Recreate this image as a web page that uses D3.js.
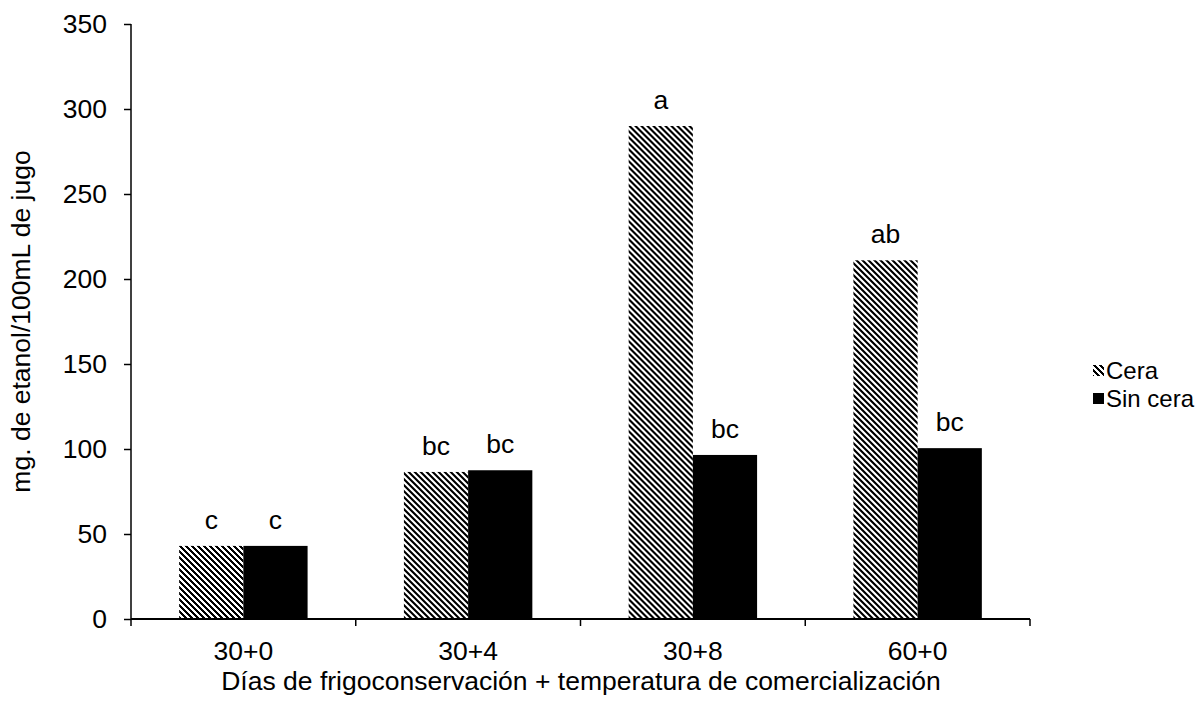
<!DOCTYPE html>
<html><head><meta charset="utf-8">
<script src="https://cdn.jsdelivr.net/npm/d3@7"></script>
<style>body{margin:0;background:#fff}svg{display:block}text{font-family:"Liberation Sans",Arial,sans-serif}</style>
</head><body>
<script>
const categories = ["30+0","30+4","30+8","60+0"];
const seriesNames = ["Cera","Sin cera"];
const cera = [43, 86.5, 290, 211];
const sinCera = [43, 87.5, 96.5, 100.5];
const ceraLabels = ["c","bc","a","ab"];
const sinCeraLabels = ["c","bc","bc","bc"];
const yTicks = [0,50,100,150,200,250,300,350];

(function(){
const W=1199,H=717, FS=26.5, FF="Liberation Sans, Arial, sans-serif";
const svg=d3.select("body").append("svg").attr("width",W).attr("height",H);
const defs=svg.append("defs");
const P=6;
const pat=defs.append("pattern").attr("id","hatch").attr("patternUnits","userSpaceOnUse")
  .attr("width",P).attr("height",P);
pat.append("rect").attr("width",P).attr("height",P).attr("fill","#fff");
const cells=[];
for(let r=0;r<P;r++)for(let k=0;k<3;k++)cells.push([(r+k)%P,r]);
pat.selectAll("rect.c").data(cells).join("rect").attr("class","c")
  .attr("x",d=>d[0]).attr("y",d=>d[1]).attr("width",1).attr("height",1).attr("fill","#000").attr("shape-rendering","crispEdges");

const mL=131,mR=1030,mT=24,mB=619;
const x=d3.scaleBand().domain(categories).range([mL,mR]);
const xs=d3.scaleBand().domain(seriesNames).range([0,x.bandwidth()]).paddingInner(0).paddingOuter(0.75);
const y=d3.scaleLinear().domain([0,350]).range([mB,mT]);

const data=categories.map((c,i)=>({c,vals:[{s:"Cera",v:cera[i],l:ceraLabels[i]},{s:"Sin cera",v:sinCera[i],l:sinCeraLabels[i]}]}));
const g=svg.append("g");
const grp=g.selectAll("g.grp").data(data).join("g").attr("transform",d=>`translate(${x(d.c)},0)`);
grp.selectAll("rect").data(d=>d.vals).join("rect")
  .attr("x",d=>xs(d.s)).attr("width",xs.bandwidth())
  .attr("y",d=>y(d.v)).attr("height",d=>y(0)-y(d.v))
  .attr("fill",d=>d.s==="Cera"?"url(#hatch)":"#000");
grp.selectAll("text.lbl").data(d=>d.vals).join("text").attr("class","lbl")
  .attr("x",d=>xs(d.s)+xs.bandwidth()/2).attr("y",d=>y(d.v)-17)
  .attr("text-anchor","middle").attr("font-size",FS).text(d=>d.l);

const ya=svg.append("g").attr("transform",`translate(${mL},0)`)
  .call(d3.axisLeft(y).tickValues(yTicks).tickSize(7).tickPadding(17));
ya.select(".domain").attr("stroke-width",1.5).attr("d",`M0,${mT}V${mB}`);
ya.selectAll(".tick line").attr("stroke-width",1.5);
ya.selectAll("text").attr("font-size",FS).attr("fill","#000").attr("font-family",FF);

const xa=svg.append("g").attr("transform",`translate(0,${mB})`)
  .call(d3.axisBottom(x).tickSize(0).tickPadding(22));
xa.select(".domain").attr("stroke-width",2).attr("d",`M${mL},0H${mR}`);
xa.selectAll("text").attr("font-size",FS).attr("fill","#000").attr("font-family",FF);
const bounds=categories.map(c=>x(c)).concat([mR]);
svg.append("g").selectAll("line").data(bounds).join("line")
  .attr("x1",d=>d).attr("x2",d=>d).attr("y1",mB).attr("y2",mB+7)
  .attr("stroke","#000").attr("stroke-width",1.5);

svg.append("text").attr("transform",`translate(30,${(mT+mB)/2}) rotate(-90)`)
  .attr("text-anchor","middle").attr("font-size",FS).text("mg. de etanol/100mL de jugo");
svg.append("text").attr("x",581).attr("y",690).attr("text-anchor","middle").attr("font-size",FS)
  .text("Días de frigoconservación + temperatura de comercialización");

const lg=svg.append("g").attr("transform","translate(1093,365)");
lg.selectAll("rect").data(seriesNames).join("rect").attr("x",0).attr("y",(d,i)=>i*28).attr("width",11).attr("height",11)
  .attr("fill",d=>d==="Cera"?"url(#hatch)":"#000");
lg.selectAll("text").data(seriesNames).join("text").attr("x",13).attr("y",(d,i)=>i*28+14)
  .attr("font-size",24).text(d=>d);
})();
</script>
</body></html>
